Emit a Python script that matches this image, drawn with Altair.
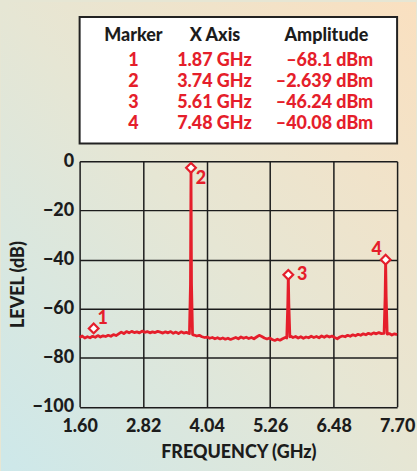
import altair as alt
import pandas as pd

# ---------------- data ----------------
grid_freq = [1.60, 1.65, 1.70, 1.75, 1.80, 1.85, 1.90, 1.95, 2.00, 2.05,
             2.10, 2.15, 2.20, 2.25, 2.30, 2.35, 2.40, 2.45, 2.50, 2.55,
             2.60, 2.65, 2.70, 2.75, 2.80, 2.85, 2.90, 2.95, 3.00, 3.05,
             3.10, 3.15, 3.20, 3.25, 3.30, 3.35, 3.40, 3.45, 3.50, 3.55,
             3.60, 3.65, 3.70, 3.75, 3.80, 3.85, 3.90, 3.95, 4.00, 4.05,
             4.10, 4.15, 4.20, 4.25, 4.30, 4.35, 4.40, 4.45, 4.50, 4.55,
             4.60, 4.65, 4.70, 4.75, 4.80, 4.85, 4.90, 4.95, 5.00, 5.05,
             5.10, 5.15, 5.20, 5.25, 5.30, 5.35, 5.40, 5.45, 5.50, 5.55,
             5.60, 5.65, 5.70, 5.75, 5.80, 5.85, 5.90, 5.95, 6.00, 6.05,
             6.10, 6.15, 6.20, 6.25, 6.30, 6.35, 6.40, 6.45, 6.50, 6.55,
             6.60, 6.65, 6.70, 6.75, 6.80, 6.85, 6.90, 6.95, 7.00, 7.05,
             7.10, 7.15, 7.20, 7.25, 7.30, 7.35, 7.40, 7.45, 7.50, 7.55,
             7.60, 7.65, 7.70]
grid_level = [-71.8, -71.2, -72.0, -71.5, -71.9, -71.3, -71.7, -71.0, -71.6, -71.1,
              -71.4, -70.9, -71.3, -70.6, -71.0, -70.3, -69.6, -70.2, -69.4, -69.9,
              -69.3, -69.8, -69.5, -69.9, -69.2, -69.7, -69.4, -69.9, -69.5, -69.8,
              -69.3, -69.6, -70.0, -69.5, -69.9, -69.4, -70.1, -69.6, -70.2, -69.5,
              -70.0, -69.7, -70.1, -70.3, -70.8, -71.2, -70.9, -71.5, -71.8, -71.6,
              -72.1, -71.8, -72.3, -71.9, -72.4, -72.0, -72.5, -72.1, -72.6, -72.2,
              -71.8, -72.3, -71.6, -72.1, -71.7, -72.2, -71.8, -72.3, -71.6, -70.9,
              -71.4, -72.0, -72.4, -72.0, -72.6, -73.0, -72.5, -72.9, -72.3, -71.8,
              -71.9, -71.2, -71.8, -71.4, -72.0, -71.5, -72.1, -71.6, -71.9, -71.3,
              -71.8, -71.4, -71.9, -71.2, -71.7, -71.1, -71.6, -71.2, -71.8, -72.3,
              -71.6, -71.2, -71.5, -70.9, -71.3, -70.7, -71.1, -70.5, -70.9, -70.3,
              -70.7, -70.1, -70.5, -69.9, -70.3, -69.8, -70.2, -70.0, -70.6, -70.2,
              -70.8, -70.3, -70.6]

spike_freq = [3.71, 3.73, 3.74, 3.75, 3.77,
              5.58, 5.60, 5.61, 5.62, 5.64,
              7.45, 7.47, 7.48, 7.49, 7.51]
spike_level = [-70.2, -50.0, -2.639, -50.0, -70.6,
               -72.0, -58.0, -46.24, -58.0, -71.5,
               -70.1, -55.0, -40.08, -55.0, -70.4]

marker_ids = ["1", "2", "3", "4"]
marker_freq = [1.87, 3.74, 5.61, 7.48]
marker_level = [-68.1, -2.639, -46.24, -40.08]

table_headers = ["Marker", "X Axis", "Amplitude"]
table_freq_text = ["1.87 GHz", "3.74 GHz", "5.61 GHz", "7.48 GHz"]
table_amp_text = ["–68.1 dBm", "–2.639 dBm", "–46.24 dBm", "–40.08 dBm"]

x_ticks = [1.60, 2.82, 4.04, 5.26, 6.48, 7.70]
y_ticks = [-100, -80, -60, -40, -20, 0]

# ---------------- styling ----------------
RED = "#e51e2b"
INK = "#1c1c1c"
FONT = "Lato"
FS = 18
W, H = 319, 246.5

# trace: grid points away from spikes + spike points
peak_freqs = [3.74, 5.61, 7.48]
keep = [(f, l) for f, l in zip(grid_freq, grid_level)
        if all(abs(f - p) > 0.035 for p in peak_freqs)]
pts = keep + list(zip(spike_freq, spike_level))
pts.sort(key=lambda t: t[0])
trace_df = pd.DataFrame(pts, columns=["freq", "level"])
marker_df = pd.DataFrame({"id": marker_ids, "freq": marker_freq, "level": marker_level})

xscale = alt.Scale(domain=[1.6, 7.7], nice=False, zero=False)
yscale = alt.Scale(domain=[-100, 0], nice=False)

xenc = alt.X("freq:Q", scale=xscale,
             axis=alt.Axis(values=x_ticks, format=".2f", title="FREQUENCY (GHz)",
                           grid=True, gridColor=INK, gridWidth=1.5, ticks=False,
                           domain=False, labelPadding=11, titlePadding=8,
                           labelFont=FONT, labelFontSize=FS, labelFontWeight=900,
                           labelColor=INK, titleFont=FONT, titleFontSize=FS,
                           titleFontWeight=900, titleColor=INK,
                           labelFlush=False))
yenc = alt.Y("level:Q", scale=yscale,
             axis=alt.Axis(values=y_ticks, title="LEVEL (dB)",
                           grid=True, gridColor=INK, gridWidth=1.5, ticks=False,
                           domain=False, labelPadding=6, titlePadding=5,
                           labelFont=FONT, labelFontSize=FS, labelFontWeight=900,
                           labelColor=INK, titleFont=FONT, titleFontSize=FS,
                           titleFontWeight=900, titleColor=INK,
                           labelFlush=False))

trace = alt.Chart(trace_df).mark_line(color=RED, strokeWidth=2.8, strokeJoin="round").encode(
    x=xenc, y=yenc, order="freq:Q")

diamonds = alt.Chart(marker_df).mark_point(
    shape="diamond", size=95, filled=True, fill="white", stroke=RED, strokeWidth=2.2, opacity=1
).encode(x=alt.X("freq:Q", scale=xscale), y=alt.Y("level:Q", scale=yscale))

label_offsets = {"1": (9, -9), "2": (10, 11), "3": (14, 0), "4": (-9, -10)}
labels = []
for mid in marker_ids:
    dx, dy = label_offsets[mid]
    labels.append(
        alt.Chart(marker_df).transform_filter(alt.datum.id == mid).mark_text(
            color=RED, font=FONT, fontSize=FS, fontWeight=900, dx=dx, dy=dy,
            align="center", baseline="middle"
        ).encode(x=alt.X("freq:Q", scale=xscale), y=alt.Y("level:Q", scale=yscale), text="id:N")
    )

plot = alt.layer(trace, diamonds, *labels).properties(width=W, height=H)

# ---------------- table ----------------
gradient = alt.Gradient(
    gradient="linear",
    stops=[alt.GradientStop(color="#cde8ea", offset=0),
           alt.GradientStop(color="#e6e6d4", offset=0.5),
           alt.GradientStop(color="#fae0c0", offset=1)],
    x1=0, y1=1, x2=1, y2=0)

bg = alt.Chart(pd.DataFrame({"a": [0]})).mark_rect(fill=gradient).encode(
    x=alt.value(-79), x2=alt.value(338), y=alt.value(-15), y2=alt.value(456))

box = alt.Chart(pd.DataFrame({"a": [0]})).mark_rect(
    fill="white", stroke="#222222", strokeWidth=2
).encode(x=alt.value(0), x2=alt.value("width"), y=alt.value(0), y2=alt.value("height"))

header_x = [54, 136, 248]
header_layers = []
for htxt, hx in zip(table_headers, header_x):
    header_layers.append(
        alt.Chart(pd.DataFrame({"t": [htxt]})).mark_text(
            font=FONT, fontSize=FS, fontWeight=900, color=INK,
            align="center", baseline="middle"
        ).encode(x=alt.value(hx), y=alt.value(19), text="t:N")
    )

table_df = pd.DataFrame({"row": marker_ids, "freq": table_freq_text, "amp": table_amp_text})
rowscale = alt.Scale(type="point", domain=marker_ids, range=[44, 107], padding=0)

col_marker = alt.Chart(table_df).mark_text(
    font=FONT, fontSize=FS, fontWeight=900, color=RED, align="center", baseline="middle"
).encode(x=alt.value(54), y=alt.Y("row:N", scale=rowscale, axis=None), text="row:N")
col_freq = alt.Chart(table_df).mark_text(
    font=FONT, fontSize=FS, fontWeight=900, color=RED, align="right", baseline="middle"
).encode(x=alt.value(173), y=alt.Y("row:N", scale=rowscale, axis=None), text="freq:N")
col_amp = alt.Chart(table_df).mark_text(
    font=FONT, fontSize=FS, fontWeight=900, color=RED, align="right", baseline="middle"
).encode(x=alt.value(295), y=alt.Y("row:N", scale=rowscale, axis=None), text="amp:N")

table = alt.layer(bg, box, *header_layers, col_marker, col_freq, col_amp).properties(
    width=W, height=127)

chart = alt.vconcat(table, plot, spacing=18, bounds="flush").properties(
    padding=0
).configure_view(
    fill="white", stroke="#222222", strokeWidth=2
).configure(background="#e6e6d4")

chart.save("out.html", embed_options={"renderer": "svg", "actions": False})
